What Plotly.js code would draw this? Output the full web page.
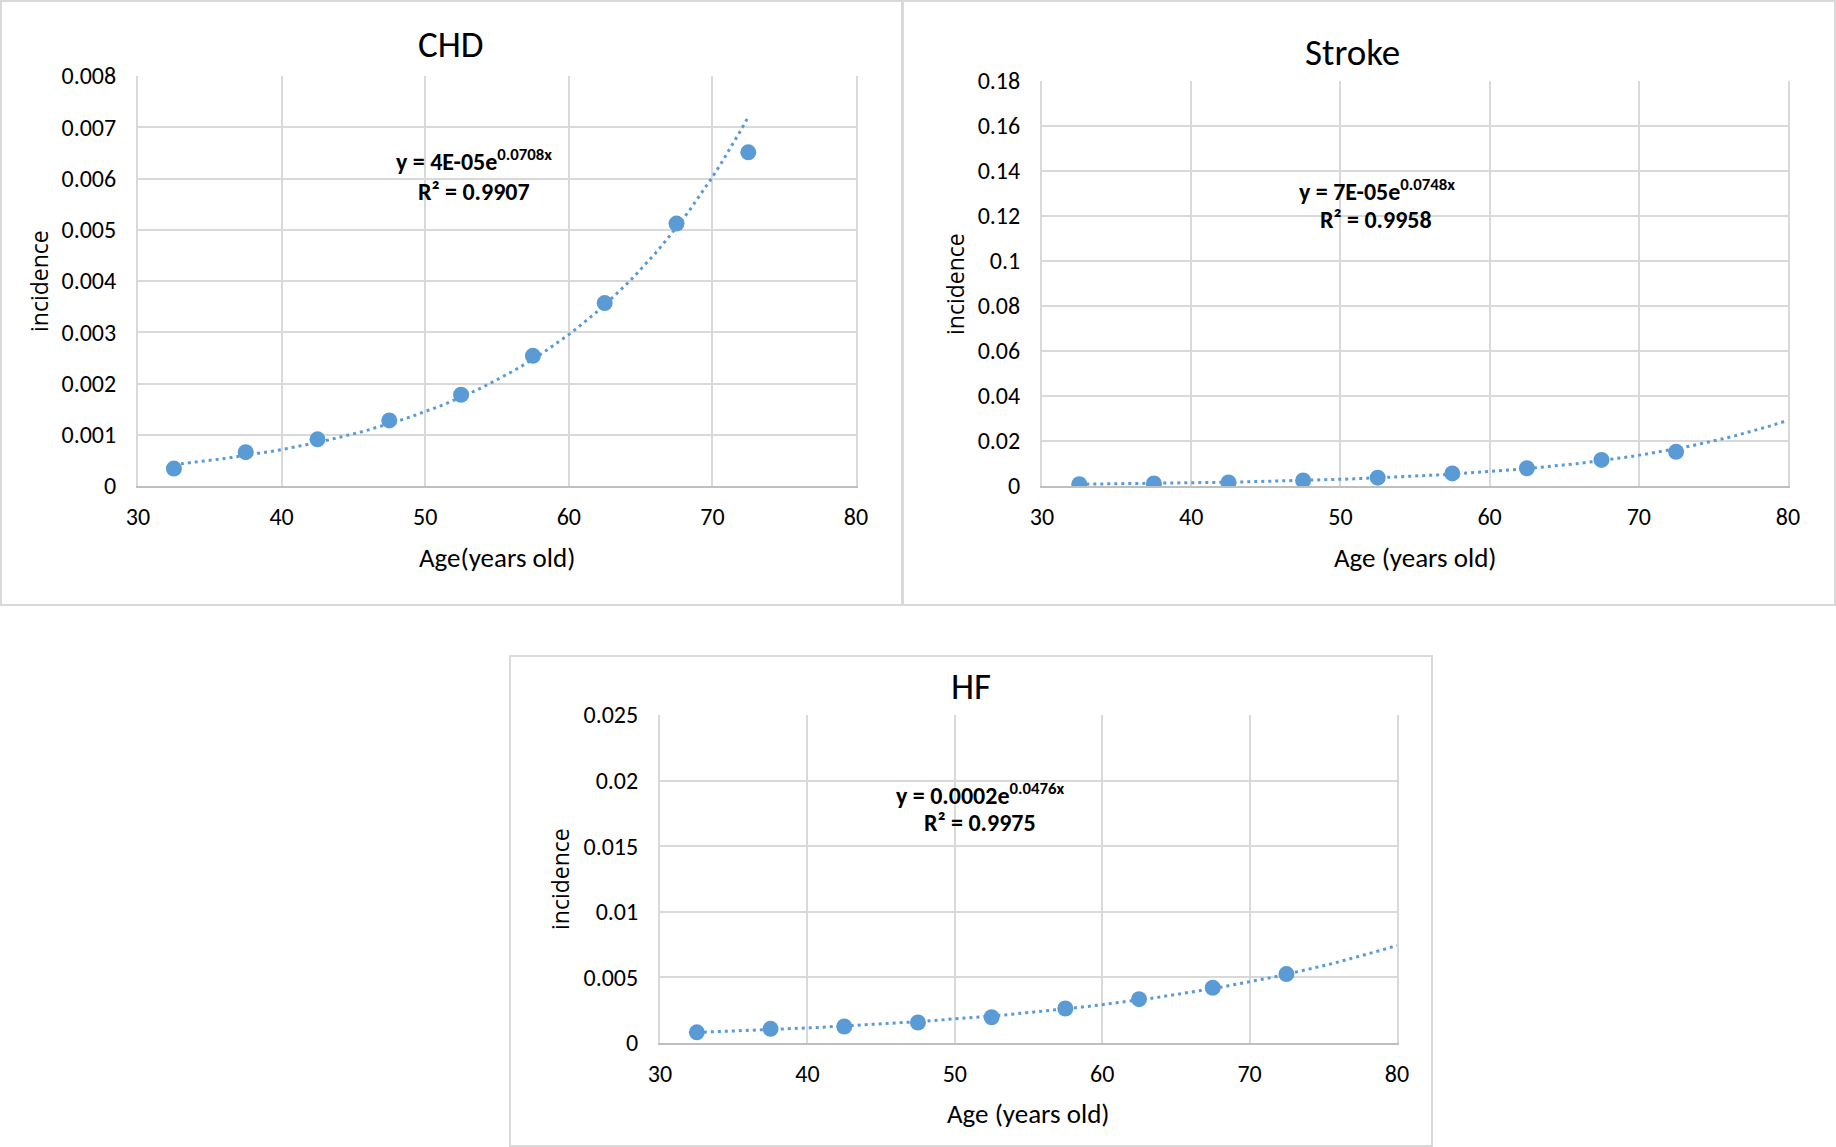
<!DOCTYPE html>
<html>
<head>
<meta charset="utf-8">
<script src="https://cdn.plot.ly/plotly-3.0.1.min.js"></script>
<style>html,body{margin:0;padding:0;background:#fff;}#chart{width:1836px;height:1147px;}</style>
</head>
<body>
<div id="chart"></div>
<script>
// ---- data ----
const ages = [32.5, 37.5, 42.5, 47.5, 52.5, 57.5, 62.5, 67.5, 72.5];
const chdIncidence = [0.00034, 0.00066, 0.00091, 0.00128, 0.00178, 0.00254, 0.00357, 0.00512, 0.00651];
const strokeIncidence = [0.0008, 0.0011, 0.0016, 0.0025, 0.0037, 0.0056, 0.0079, 0.0116, 0.0152];
const hfIncidence = [0.00081, 0.00108, 0.00126, 0.00156, 0.00196, 0.00263, 0.00334, 0.00421, 0.00525];

const panelTitles = ["CHD", "Stroke", "HF"];
const xTitles = ["Age(years old)", "Age (years old)", "Age (years old)"];
const yTitle = "incidence";
const equations = ["y = 4E-05e<sup>0.0708x</sup>", "y = 7E-05e<sup>0.0748x</sup>", "y = 0.0002e<sup>0.0476x</sup>"];
const rSquared = ["R² = 0.9907", "R² = 0.9958", "R² = 0.9975"];
// trendline extent (forward forecast to 80 on Stroke and HF)
const trendEnd = [72.5, 80, 80];

const xTickVals = [30, 40, 50, 60, 70, 80];
const xTickText = ["30", "40", "50", "60", "70", "80"];
const chdTickVals = [0, 0.001, 0.002, 0.003, 0.004, 0.005, 0.006, 0.007, 0.008];
const chdTickText = ["0", "0.001", "0.002", "0.003", "0.004", "0.005", "0.006", "0.007", "0.008"];
const strokeTickVals = [0, 0.02, 0.04, 0.06, 0.08, 0.1, 0.12, 0.14, 0.16, 0.18];
const strokeTickText = ["0", "0.02", "0.04", "0.06", "0.08", "0.1", "0.12", "0.14", "0.16", "0.18"];
const hfTickVals = [0, 0.005, 0.01, 0.015, 0.02, 0.025];
const hfTickText = ["0", "0.005", "0.01", "0.015", "0.02", "0.025"];

// ---- exponential trendline (least squares on ln y, as Excel does) ----
function expFit(xs, ys) {
  const n = xs.length;
  const ly = ys.map(Math.log);
  const mx = xs.reduce((a, b) => a + b, 0) / n;
  const my = ly.reduce((a, b) => a + b, 0) / n;
  let sxy = 0, sxx = 0;
  for (let i = 0; i < n; i++) { sxy += (xs[i] - mx) * (ly[i] - my); sxx += (xs[i] - mx) ** 2; }
  const b = sxy / sxx;
  const a = Math.exp(my - b * mx);
  return {a, b};
}
function trend(xs, ys, x0, x1) {
  const f = expFit(xs, ys);
  const tx = [], ty = [];
  const steps = 80;
  for (let i = 0; i <= steps; i++) {
    const x = x0 + (x1 - x0) * i / steps;
    tx.push(x); ty.push(f.a * Math.exp(f.b * x));
  }
  return {tx, ty};
}

const blue = "#5B9BD5";
const FONT = "Carlito, 'Liberation Sans Narrow', 'Open Sans', sans-serif";
const series = [chdIncidence, strokeIncidence, hfIncidence];
const axisIds = [["x", "y"], ["x2", "y2"], ["x3", "y3"]];

const traces = [];
series.forEach((ys, i) => {
  const t = trend(ages, ys, ages[0], trendEnd[i]);
  traces.push({
    x: t.tx, y: t.ty, type: "scatter", mode: "lines",
    line: {color: blue, width: 3, dash: "3px,4px"},
    xaxis: axisIds[i][0], yaxis: axisIds[i][1], hoverinfo: "skip", showlegend: false
  });
  traces.push({
    x: ages, y: ys, type: "scatter", mode: "markers",
    marker: {color: blue, size: 16},
    xaxis: axisIds[i][0], yaxis: axisIds[i][1], showlegend: false
  });
});

const W = 1836, H = 1147;
const px = v => v / W, py = v => 1 - v / H;

function xAxis(domain, anchor) {
  return {
    domain: domain, anchor: anchor, range: [30, 80],
    tickvals: xTickVals, ticktext: xTickText,
    tickfont: {family: FONT, size: 24, color: "#000"},
    showgrid: true, gridcolor: "#d9d9d9", gridwidth: 2,
    showline: true, linecolor: "#bfbfbf", linewidth: 2,
    zeroline: false, ticks: "", ticklabelstandoff: 8, fixedrange: true
  };
}
function yAxis(domain, anchor, range, vals, text) {
  return {
    domain: domain, anchor: anchor, range: range,
    tickvals: vals, ticktext: text,
    tickfont: {family: FONT, size: 24, color: "#000"},
    showgrid: true, gridcolor: "#d9d9d9", gridwidth: 2,
    showline: true, mirror: true, linecolor: "#d9d9d9", linewidth: 2,
    zeroline: false, ticks: "", ticklabelstandoff: 15, fixedrange: true
  };
}

// plot-area pixel boxes
const boxes = [
  {l: 138, r: 856, t: 76, b: 486},
  {l: 1042, r: 1788, t: 81, b: 486},
  {l: 660, r: 1397, t: 715, b: 1043}
];
const dom = boxes.map(bx => ({x: [px(bx.l), px(bx.r)], y: [py(bx.b), py(bx.t)]}));

const ann = [];
const titlePos = [[451, 44], [1352, 53], [971, 686]];
const xTitlePos = [[497, 557], [1415, 557], [1028, 1113]];
const yTitlePos = [[39, 281], [955, 284], [560, 879]];
const eqPos = [[474, 160], [1377, 190], [980, 794]];
const rPos = [[474, 191], [1376, 220], [980, 822]];
for (let i = 0; i < 3; i++) {
  ann.push({text: panelTitles[i], xref: "paper", yref: "paper", x: px(titlePos[i][0]), y: py(titlePos[i][1]),
    xanchor: "center", yanchor: "middle", showarrow: false, font: {family: FONT, size: 37, color: "#000"}});
  ann.push({text: xTitles[i], xref: "paper", yref: "paper", x: px(xTitlePos[i][0]), y: py(xTitlePos[i][1]),
    xanchor: "center", yanchor: "middle", showarrow: false, font: {family: FONT, size: 27, color: "#000"}});
  ann.push({text: yTitle, xref: "paper", yref: "paper", x: px(yTitlePos[i][0]), y: py(yTitlePos[i][1]),
    xanchor: "center", yanchor: "middle", textangle: -90, showarrow: false,
    font: {family: "'Open Sans', sans-serif", size: 23, color: "#000"}});
  ann.push({text: "<b>" + equations[i] + "</b>", xref: "paper", yref: "paper", x: px(eqPos[i][0]), y: py(eqPos[i][1]),
    xanchor: "center", yanchor: "middle", showarrow: false, font: {family: FONT, size: 24, color: "#000"}});
  ann.push({text: "<b>" + rSquared[i] + "</b>", xref: "paper", yref: "paper", x: px(rPos[i][0]), y: py(rPos[i][1]),
    xanchor: "center", yanchor: "middle", showarrow: false, font: {family: FONT, size: 24, color: "#000"}});
}

const panelRects = [[1, 1, 902, 605], [903, 1, 1835, 605], [510, 656, 1432, 1146]];
const shapes = panelRects.map(r => ({
  type: "rect", xref: "paper", yref: "paper", layer: "below",
  x0: px(r[0]), x1: px(r[2]), y0: py(r[3]), y1: py(r[1]),
  line: {color: "#d9d9d9", width: 2}, fillcolor: "rgba(0,0,0,0)"
}));

const layout = {
  width: W, height: H,
  margin: {l: 0, r: 0, t: 0, b: 0},
  paper_bgcolor: "#fff", plot_bgcolor: "#fff",
  showlegend: false,
  xaxis: xAxis(dom[0].x, "y"),
  yaxis: yAxis(dom[0].y, "x", [0, 0.008], chdTickVals, chdTickText),
  xaxis2: xAxis(dom[1].x, "y2"),
  yaxis2: yAxis(dom[1].y, "x2", [0, 0.18], strokeTickVals, strokeTickText),
  xaxis3: xAxis(dom[2].x, "y3"),
  yaxis3: yAxis(dom[2].y, "x3", [0, 0.025], hfTickVals, hfTickText),
  annotations: ann,
  shapes: shapes
};

Plotly.newPlot("chart", traces, layout, {displayModeBar: false, staticPlot: true});
</script>
</body>
</html>
